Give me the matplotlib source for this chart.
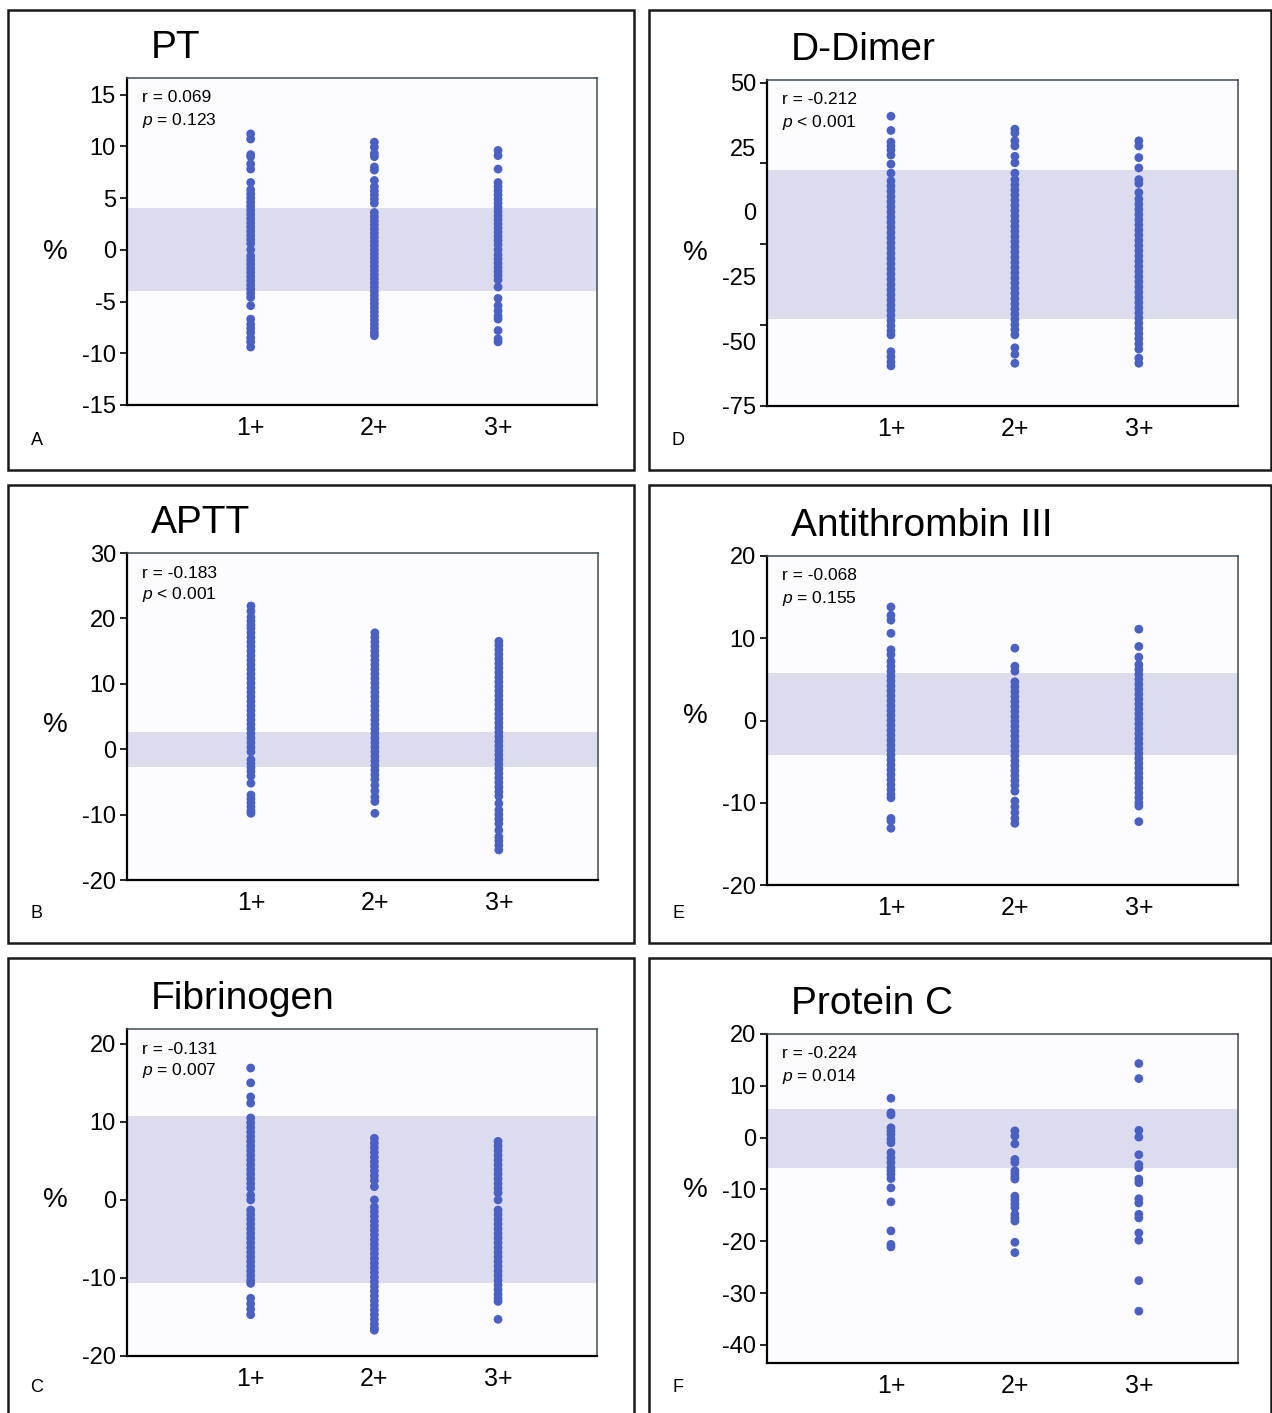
import matplotlib
matplotlib.use("Agg")
import matplotlib.pyplot as plt
from matplotlib.patches import Rectangle

plt.rcParams['font.family'] = ['Liberation Sans', 'DejaVu Sans']
plt.rcParams['mathtext.fontset'] = 'custom'
plt.rcParams['mathtext.rm'] = 'Liberation Sans'
plt.rcParams['mathtext.it'] = 'Liberation Sans:italic'

# 分组
groups = ["1+", "2+", "3+"]

# PT
pt_1 = [11.2, 10.7, 9.2, 9.0, 8.3, 7.8, 6.5, 5.8, 5.4, 5.0, 4.6, 4.2, 3.8, 3.4, 3.0, 2.6, 2.2, 1.8, 1.4, 1.0, 0.6,
        0.0, -0.6, -1.0, -1.4, -1.8, -2.2, -2.6, -3.0, -3.4, -3.8, -4.2, -4.6, -5.4, -6.7, -7.2, -7.6, -8.0, -8.5,
        -8.9, -9.4]
pt_2 = [10.4, 9.9, 9.3, 9.0, 8.0, 7.7, 6.7, 6.1, 5.7, 5.3, 4.9, 4.5, 3.6, 3.2, 2.8, 2.4, 2.0, 1.6, 1.2, 0.8, 0.4,
        0.0, -0.4, -0.8, -1.2, -1.6, -2.0, -2.4, -2.8, -3.2, -3.6, -4.0, -4.4, -4.8, -5.2, -5.6, -6.0, -6.4, -6.8,
        -7.2, -7.6, -8.0, -8.3]
pt_3 = [9.6, 9.1, 7.8, 6.5, 6.1, 5.7, 5.3, 4.9, 4.5, 4.1, 3.7, 3.3, 2.9, 2.5, 2.1, 1.7, 1.3, 0.9, 0.5, 0.0, -0.5,
        -0.9, -1.3, -1.7, -2.1, -2.5, -2.9, -3.6, -4.7, -5.4, -5.9, -6.4, -6.7, -7.8, -8.6, -8.9]

# APTT
aptt_1 = [21.9, 21.1, 20.2, 19.6, 19.0, 18.5, 17.8, 17.1, 16.4, 15.7, 15.0, 14.3, 13.6, 12.9, 12.2, 11.5, 10.8,
          10.1, 9.4, 8.7, 8.0, 7.3, 6.6, 5.9, 5.2, 4.5, 3.8, 3.1, 2.4, 1.7, 1.0, 0.3, -0.4, -1.6, -2.2, -2.8, -3.4,
          -4.1, -5.2, -7.0, -7.6, -8.2, -8.8, -9.4, -9.8]
aptt_2 = [17.8, 17.1, 16.4, 15.7, 15.0, 14.3, 13.6, 12.9, 12.2, 11.5, 10.8, 10.1, 9.4, 8.7, 8.0, 7.3, 6.6, 5.9,
          5.2, 4.5, 3.8, 3.1, 2.4, 1.7, 1.0, 0.3, -0.4, -1.1, -1.8, -2.5, -3.2, -3.9, -4.6, -5.5, -6.4, -7.3, -8.0,
          -9.8]
aptt_3 = [16.5, 15.9, 15.2, 14.5, 13.8, 13.1, 12.4, 11.7, 11.0, 10.3, 9.6, 8.9, 8.2, 7.5, 6.8, 6.1, 5.4, 4.7, 4.0,
          3.3, 2.6, 1.9, 1.2, 0.5, -0.2, -0.9, -1.6, -2.3, -3.0, -3.7, -4.4, -5.1, -5.8, -6.5, -7.2, -8.3, -9.3,
          -10.0, -10.7, -11.4, -12.4, -13.4, -14.0, -14.7, -15.4]

# Fibrinogen
fib_1 = [16.9, 15.0, 13.2, 12.4, 10.5, 9.9, 9.3, 8.7, 8.1, 7.5, 6.9, 6.3, 5.7, 5.1, 4.5, 3.9, 3.3, 2.7, 2.1, 1.5,
         0.6, 0.0, -1.3, -1.9, -2.5, -3.1, -3.7, -4.3, -4.9, -5.5, -6.1, -6.7, -7.3, -7.9, -8.5, -9.1, -9.7, -10.3,
         -10.7, -12.6, -13.3, -14.0, -14.7]
fib_2 = [7.9, 7.3, 6.7, 6.1, 5.5, 4.9, 4.3, 3.7, 3.1, 2.5, 1.7, 0.0, -0.9, -1.5, -2.1, -2.7, -3.3, -3.9, -4.5, -5.1,
         -5.7, -6.3, -6.9, -7.5, -8.1, -8.7, -9.3, -9.9, -10.5, -11.1, -11.7, -12.3, -12.9, -13.5, -14.1, -14.7,
         -15.3, -15.9, -16.4, -16.7]
fib_3 = [7.5, 6.9, 6.3, 5.7, 5.1, 4.5, 3.9, 3.3, 2.7, 2.1, 1.5, 0.9, 0.0, -1.3, -1.9, -2.5, -3.1, -3.7, -4.3, -4.9,
         -5.5, -6.1, -6.7, -7.3, -7.9, -8.5, -9.1, -9.7, -10.3, -10.9, -11.5, -12.1, -12.6, -13.0, -15.3]

# D-Dimer
dd_1 = [37.0, 31.5, 27.0, 25.5, 24.0, 22.0, 18.5, 15.0, 12.0, 10.0, 8.0, 6.0, 4.0, 2.0, 0.0, -2.0, -4.0, -6.0,
        -8.0, -10.0, -12.0, -14.0, -16.0, -18.0, -20.0, -22.0, -24.0, -26.0, -28.0, -30.0, -32.0, -34.0, -36.0,
        -38.0, -40.0, -42.0, -44.0, -46.0, -47.5, -54.0, -56.0, -58.0, -59.5]
dd_2 = [32.0, 30.5, 27.5, 25.5, 21.5, 19.0, 15.0, 12.5, 10.5, 8.5, 6.5, 4.5, 2.5, 0.5, -1.5, -3.5, -5.5, -7.5,
        -9.5, -11.5, -13.5, -15.5, -17.5, -19.5, -21.5, -23.5, -25.5, -27.5, -29.5, -31.5, -33.5, -35.5, -37.5,
        -39.5, -41.5, -43.5, -45.5, -47.5, -52.5, -55.0, -58.5]
dd_3 = [27.5, 25.5, 21.0, 17.0, 12.5, 11.0, 7.5, 5.0, 3.0, 1.0, -1.0, -3.0, -5.0, -7.0, -9.0, -11.0, -13.0, -15.0,
        -17.0, -19.0, -21.0, -23.0, -25.0, -27.0, -29.0, -31.0, -33.0, -35.0, -37.0, -39.0, -41.0, -43.0, -45.0,
        -47.0, -49.0, -51.0, -53.0, -56.5, -58.5]

# Antithrombin III
at_1 = [13.8, 12.8, 12.2, 10.6, 8.6, 8.0, 7.2, 6.6, 6.0, 5.4, 4.8, 4.2, 3.6, 3.0, 2.4, 1.8, 1.2, 0.6, 0.0, -0.6,
        -1.2, -1.8, -2.4, -3.0, -3.6, -4.2, -4.8, -5.4, -6.0, -6.6, -7.2, -7.8, -8.4, -9.0, -9.4, -11.9, -12.2,
        -13.1]
at_2 = [8.8, 6.6, 6.0, 4.7, 4.1, 3.5, 2.9, 2.3, 1.7, 1.1, 0.5, -0.1, -0.7, -1.3, -1.9, -2.5, -3.1, -3.7, -4.3,
        -4.9, -5.5, -6.1, -6.7, -7.3, -7.9, -8.6, -9.8, -10.5, -11.2, -11.9, -12.5]
at_3 = [11.1, 9.0, 7.7, 6.8, 6.2, 5.6, 5.0, 4.4, 3.8, 3.2, 2.6, 2.0, 1.4, 0.8, 0.2, -0.4, -1.0, -1.6, -2.2, -2.8,
        -3.4, -4.0, -4.6, -5.2, -5.8, -6.4, -7.0, -7.6, -8.2, -8.8, -9.4, -10.0, -10.4, -12.3]

# Protein C
pc_1 = [7.6, 4.8, 4.4, 1.9, 1.3, 0.6, -0.3, -1.0, -2.9, -3.9, -4.8, -5.8, -6.4, -7.1, -7.9, -9.7, -12.4, -18.0,
        -20.6, -21.1]
pc_2 = [1.3, 0.3, -1.2, -4.2, -4.8, -6.4, -7.0, -7.6, -8.0, -11.3, -12.0, -12.8, -13.5, -14.8, -15.5, -16.1, -20.2,
        -22.2]
pc_3 = [14.3, 11.4, 1.4, 0.1, -3.3, -5.2, -5.8, -8.0, -8.7, -11.8, -12.6, -14.8, -15.5, -18.4, -19.8, -27.6,
        -33.5]

# 每个面板的标题、统计量、参考区间
titles = ["PT", "APTT", "Fibrinogen", "D-Dimer", "Antithrombin III", "Protein C"]
letters = ["A", "B", "C", "D", "E", "F"]
r_texts = ["r = 0.069", "r = -0.183", "r = -0.131", "r = -0.212", "r = -0.068", "r = -0.224"]
p_texts = ["$p$ = 0.123", "$p$ < 0.001", "$p$ = 0.007", "$p$ < 0.001", "$p$ = 0.155", "$p$ = 0.014"]
bands = [(-4, 4), (-2.7, 2.6), (-10.6, 10.8), (-41.3, 16.3), (-4.2, 5.8), (-5.8, 5.6)]
ytick_labels = [[-15, -10, -5, 0, 5, 10, 15], [-20, -10, 0, 10, 20, 30], [-20, -10, 0, 10, 20],
                [-75, -50, -25, 0, 25, 50], [-20, -10, 0, 10, 20], [-40, -30, -20, -10, 0, 10, 20]]
series = [[pt_1, pt_2, pt_3], [aptt_1, aptt_2, aptt_3], [fib_1, fib_2, fib_3],
          [dd_1, dd_2, dd_3], [at_1, at_2, at_3], [pc_1, pc_2, pc_3]]

# 布局 (像素)
W, H = 1272, 1413
ylims = [(-15, 16.6), (-20, 30), (-20, 21.9), (-75, 51), (-20, 20), (-43.5, 20)]
axes_px = [(127, 78, 597, 405), (127, 553, 598, 880), (127, 1029, 597, 1356),
           (767, 80, 1238, 406), (767, 556, 1238, 885), (767, 1034, 1238, 1363)]
boxes_px = [(8, 10, 634, 470), (8, 485, 634, 943), (8, 958, 634, 1420),
            (649, 10, 1271, 470), (649, 485, 1271, 943), (649, 958, 1271, 1420)]
pct_y = [0.468, 0.474, 0.477, 0.47, 0.514, 0.526]

dot_color = "#4a60c2"
band_color = "#dcdcee"

fig = plt.figure(figsize=(W / 100, H / 100), dpi=100)

for i in range(6):
    x0, y0, x1, y1 = boxes_px[i]
    fig.patches.append(Rectangle((x0 / W, 1 - y1 / H), (x1 - x0) / W, (y1 - y0) / H,
                                 transform=fig.transFigure, fill=False, lw=1.8, ec="#1a1a1a"))
    fig.text((x0 + 29) / W, 1 - (y1 - 30 if i % 3 != 2 else 1388) / H, letters[i],
             fontsize=13, ha="center", va="center")

    x0, y0, x1, y1 = axes_px[i]
    ax = fig.add_axes([x0 / W, 1 - y1 / H, (x1 - x0) / W, (y1 - y0) / H])
    ax.set_facecolor("#fcfcff")
    ax.axhspan(bands[i][0], bands[i][1], color=band_color, lw=0, zorder=1)
    for k, vals in enumerate(series[i]):
        ax.scatter([k + 1] * len(vals), vals, s=40, color=dot_color, edgecolors="none", zorder=3)

    ax.set_xlim(0, 3.8)
    ax.set_ylim(*ylims[i])
    ax.set_xticks([1, 2, 3])
    ax.set_xticklabels(groups, fontsize=18)
    ax.tick_params(axis="x", length=0, pad=8)

    if titles[i] == "D-Dimer":
        # 原图刻度线与刻度标签不对齐
        ax.yaxis.remove_overlapping_locs = False
        ax.set_yticks([-75, -43.75, -12.5, 18.75, 50])
        ax.set_yticklabels([])
        ax.set_yticks(ytick_labels[i], minor=True)
        ax.set_yticklabels([str(v) for v in ytick_labels[i]], minor=True, fontsize=17)
        ax.tick_params(axis="y", which="minor", length=0, pad=8)
    else:
        ax.set_yticks(ytick_labels[i])
        ax.set_yticklabels([str(v) for v in ytick_labels[i]], fontsize=17)
    ax.tick_params(axis="y", which="major", length=5, width=1.2, pad=3)

    for s in ["left", "bottom"]:
        ax.spines[s].set_color("black")
        ax.spines[s].set_linewidth(1.6)
    for s in ["top", "right"]:
        ax.spines[s].set_color("#3e4b52")
        ax.spines[s].set_linewidth(1.1)

    ax.set_ylabel("%", rotation=0, fontsize=20, va="center")
    ax.yaxis.set_label_coords(-0.153, pct_y[i])

    h = y1 - y0
    ax.text(0.05, 1 + 30 / h, titles[i], transform=ax.transAxes, fontsize=28, ha="left", va="center")
    ax.text(0.032, 1 - 20 / h, r_texts[i], transform=ax.transAxes, fontsize=12.5, ha="left", va="center")
    ax.text(0.032, 1 - 42 / h, p_texts[i], transform=ax.transAxes, fontsize=12.5, ha="left", va="center")

fig.savefig("out.png", dpi=100, facecolor="white")
